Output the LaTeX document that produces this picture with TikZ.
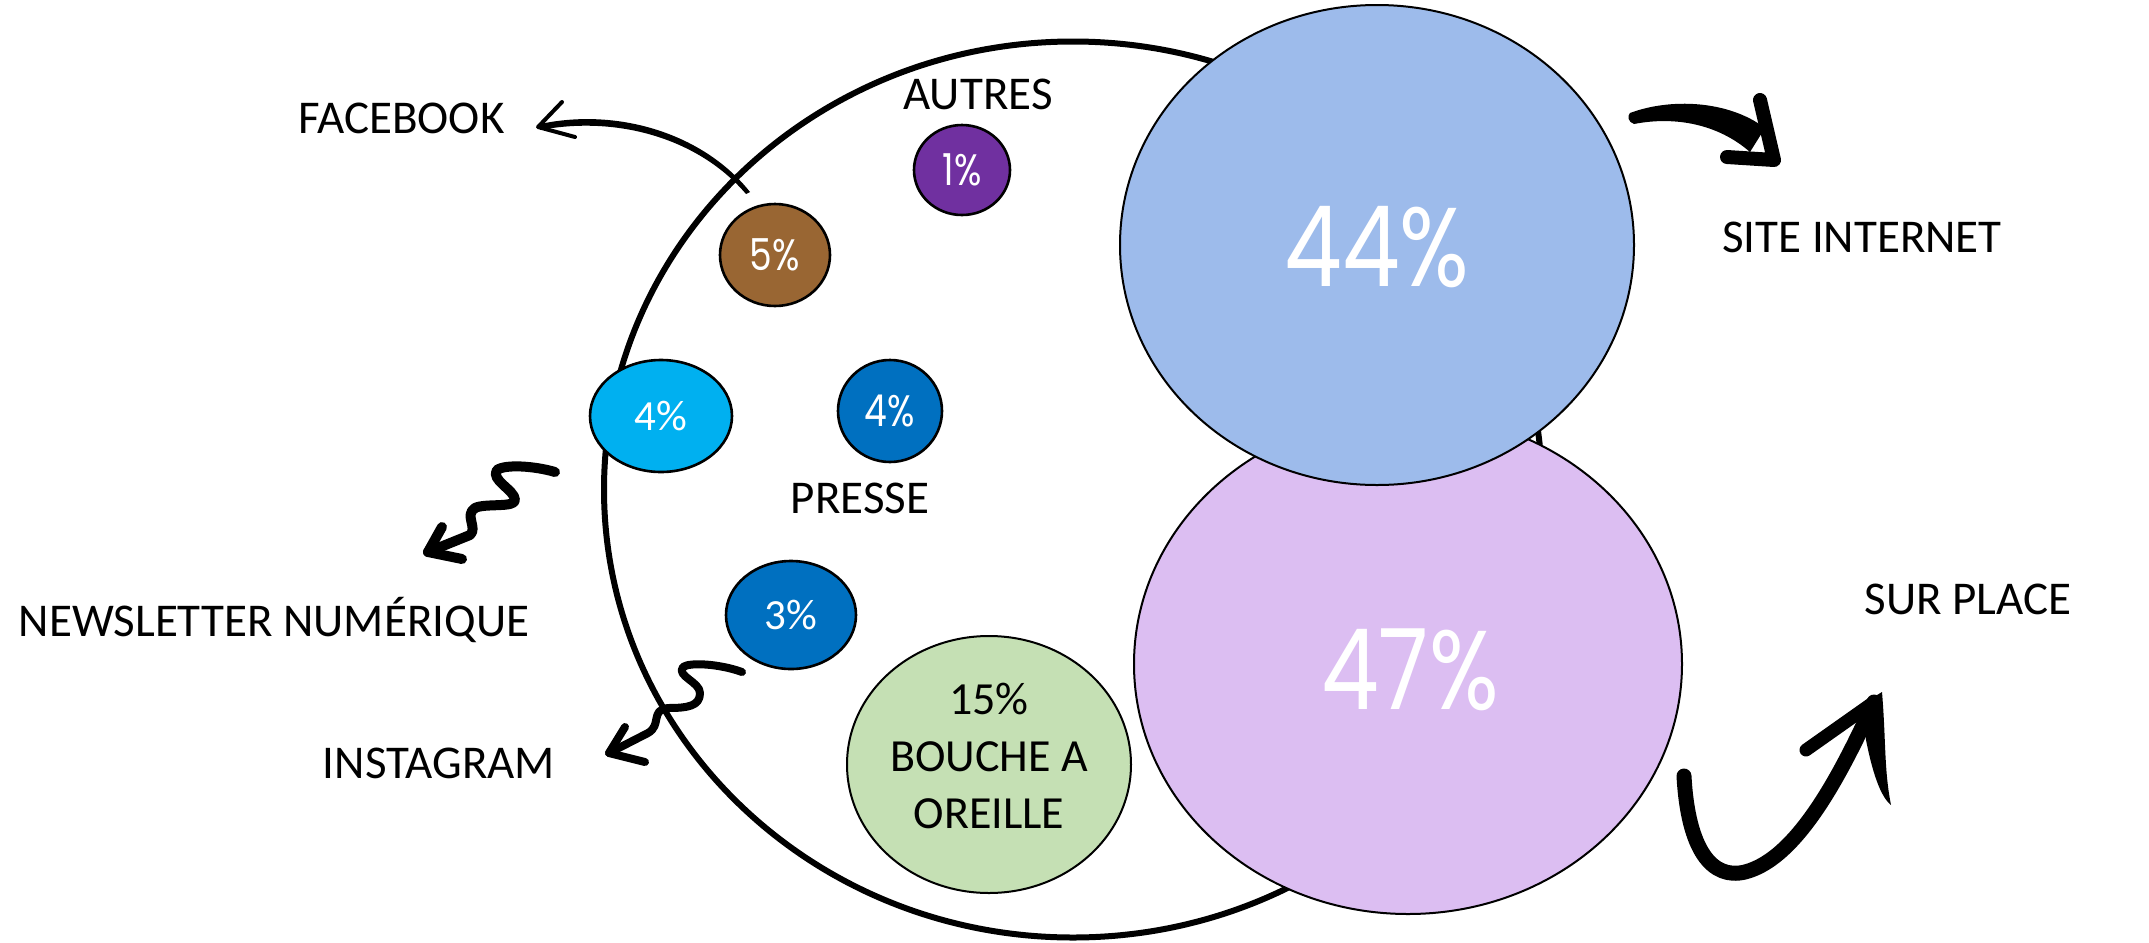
\documentclass[tikz,border=0pt]{standalone}
\usepackage{fontspec}
\setmainfont{Carlito}
\newfontfamily\pct[FakeStretch=0.82]{Poppins}
\usetikzlibrary{shapes.geometric}
\definecolor{cblue}{RGB}{157,187,235}
\definecolor{cpurple}{RGB}{220,190,242}
\definecolor{cviolet}{RGB}{112,48,160}
\definecolor{cbrown}{RGB}{153,102,51}
\definecolor{ccyan}{RGB}{0,176,240}
\definecolor{cdblue}{RGB}{0,112,192}
\definecolor{cgreen}{RGB}{197,224,180}
\tikzset{
  bubble/.style={ellipse, draw=black, inner sep=0pt, outer sep=0pt, line width=1.3pt, text=white},
  lbl/.style={anchor=base, inner sep=0pt, font=\fontsize{23.5pt}{28pt}\selectfont},
  smallpct/.style={font=\pct\fontsize{22pt}{26pt}\selectfont},
  calpct/.style={font=\fontsize{21.5pt}{26pt}\selectfont},
  bigpct/.style={font=\pct\fontsize{56pt}{60pt}\selectfont},
  brush/.style={black, line cap=round, line join=round},
}
\begin{document}
\begin{tikzpicture}[x=0.5pt, y=-0.5pt]
\fill[white] (0,0) rectangle (2149,943);
\useasboundingbox (0,0) rectangle (2149,943);

% main ellipse
\node[ellipse, draw=black, line width=3pt, inner sep=0pt, minimum width=469pt, minimum height=448pt] (main) at (1073,489.5) {};

% small bubbles
\node[bubble, fill=cviolet, minimum width=48pt, minimum height=45pt, smallpct] (autres) at (962,170) {1\%};
\node[bubble, fill=cbrown, minimum width=55pt, minimum height=51pt, smallpct] (fb) at (775,255) {5\%};
\node[bubble, fill=ccyan, minimum width=71pt, minimum height=56pt, calpct] (news) at (661,416) {4\%};
\node[bubble, fill=cdblue, minimum width=52pt, minimum height=51pt, smallpct] (presse) at (890,411) {4\%};
\node[bubble, fill=cdblue, minimum width=65pt, minimum height=54pt, calpct] (insta) at (791,615) {3\%};
\node[bubble, fill=cgreen, line width=1pt, minimum width=142pt, minimum height=128.5pt] (bouche) at (989,764.5) {};
\node[align=center, inner sep=0pt, font=\fontsize{23pt}{28.5pt}\selectfont, anchor=base] (bouchetxt) at (989,828) {15\%\\BOUCHE A\\OREILLE};

% big bubbles
\node[bubble, fill=cpurple, line width=1pt, minimum width=274pt, minimum height=250pt] (place) at (1408,664) {};
\node[bubble, fill=cblue, line width=1pt, minimum width=257pt, minimum height=240pt] (site) at (1377,245) {};
\node[bigpct, text=white, inner sep=0pt] (sitepct) at (1377,247) {44\%};
\node[bigpct, text=white, inner sep=0pt] (placepct) at (1410,670) {47\%};

% labels
\node[lbl] (lfb) at (401.5,133) {FACEBOOK};
\node[lbl] (lautres) at (978,109) {AUTRES};
\node[lbl] (lpresse) at (860,513) {PRESSE};
\node[lbl] (lnews) at (274,636) {NEWSLETTER NUMÉRIQUE};
\node[lbl] (linsta) at (439,778) {INSTAGRAM};
\node[lbl] (lsite) at (1862,252) {SITE INTERNET};
\node[lbl] (lplace) at (1968,614) {SUR PLACE};

% Facebook arrow
\coordinate (fbtail) at (750,192);
\coordinate (fbtip) at (538,127);
\fill[black] (fbtail) .. controls (705,135) and (620,107) .. (540,124) -- (540,130) .. controls (620,115) and (700,140) .. (746,194) -- cycle;
\draw[brush, line width=2pt] (562,102) -- (fbtip) -- (575,137);

% Newsletter squiggle
\coordinate (nstart) at (555,472);
\coordinate (ntip) at (428,552);
\draw[brush, line width=5pt] (nstart) .. controls (535,466) and (505,464) .. (497,470)
  .. controls (490,480) and (515,490) .. (515,500)
  .. controls (515,508) and (485,503) .. (475,508)
  .. controls (464,515) and (478,528) .. (470,535) -- (ntip);
\draw[brush, line width=5pt] (442,527) -- (ntip) -- (462,559);

% Instagram squiggle
\coordinate (istart) at (742,672);
\coordinate (itip) at (609,753);
\draw[brush, line width=4pt] (istart) .. controls (720,664) and (690,662) .. (683,667)
  .. controls (676,676) and (700,682) .. (700,693)
  .. controls (700,706) and (688,708) .. (668,708)
  .. controls (650,710) and (662,725) .. (648,733) -- (itip);
\draw[brush, line width=4pt] (625,727) -- (itip) -- (645,762);

% Site internet arrow
\coordinate (sstart) at (1632,118);
\coordinate (stip) at (1774,160);
\fill[black] (1630,113) .. controls (1670,98) and (1728,100) .. (1765,128) -- (1750,152) .. controls (1718,124) and (1675,116) .. (1634,124) .. controls (1628,122) and (1627,116) .. (1630,113) -- cycle;
\draw[brush, line width=7pt] (1760,100) -- (stip) -- (1727,157);

% Sur place arrow
\coordinate (pstart) at (1684,776);
\coordinate (ptip) at (1874,702);
\draw[brush, line width=7.5pt] (pstart) .. controls (1688,850) and (1712,880) .. (1745,872)
  .. controls (1800,858) and (1845,765) .. (ptip);
\draw[brush, line width=6.5pt] (1806,750) -- (ptip);
\fill[black] (1864,703) -- (1882,692) .. controls (1886,740) and (1884,770) .. (1891,805) .. controls (1878,795) and (1870,760) .. (1866,740) -- cycle;
\end{tikzpicture}
\end{document}
